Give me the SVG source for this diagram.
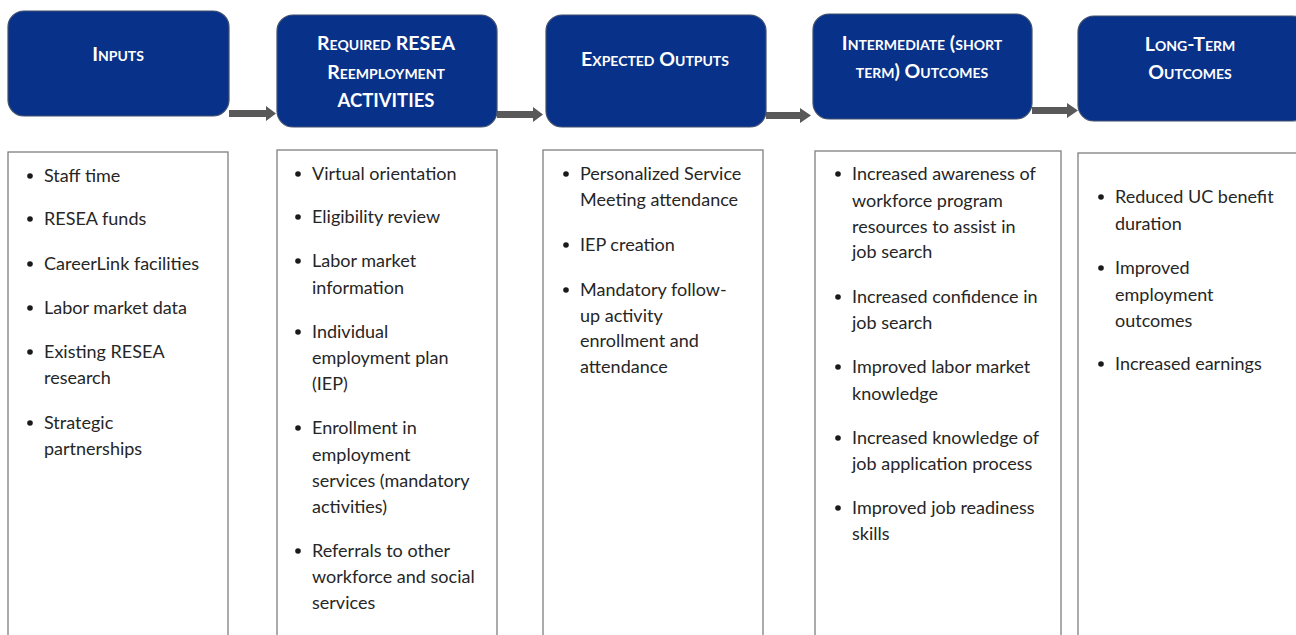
<svg xmlns="http://www.w3.org/2000/svg" width="1296" height="635" viewBox="0 0 1296 635">
  <defs>
    <style>
      .hdr { fill: #08318a; stroke: #41506e; stroke-width: 1.2; }
      .htxt { fill: #ffffff; font-family: Lato, "Liberation Sans", sans-serif; font-weight: bold; font-size: 19.5px; font-variant: small-caps; text-anchor: middle; }
      .hbig { font-size: 18.5px; font-variant: normal; }
      .body { fill: #ffffff; stroke: #7f7f7f; stroke-width: 1.3; }
      .btxt { fill: #262626; font-family: Lato, "Liberation Sans", sans-serif; font-size: 18px; }
      .dot { fill: #1a1a1a; }
      .arrow { fill: #595959; }
    </style>
    <symbol id="b" overflow="visible"><circle cx="0" cy="0" r="2.8" class="dot"/></symbol>
  </defs>
  <rect width="1296" height="635" fill="#ffffff"/>

  <!-- connectors between header boxes -->
  <g id="connectors">
    <polygon class="arrow" points="229,110 266,110 266,106 276,113.5 266,121 266,117 229,117"/>
    <polygon class="arrow" points="497,111 533,111 533,107 543,114.5 533,122 533,118 497,118"/>
    <polygon class="arrow" points="766,112 800,112 800,108 811,115.5 800,123 800,119 766,119"/>
    <polygon class="arrow" points="1032,107 1067,107 1067,103 1078,110.5 1067,118 1067,114 1032,114"/>
  </g>

  <!-- column 1 -->
  <g id="inputs">
    <rect class="hdr" x="8" y="11" width="221" height="105" rx="16"/>
    <text class="htxt" x="118" y="61">Inputs</text>
  </g>
  <g id="inputs-list">
    <rect class="body" x="8" y="152" width="220" height="490"/>
    <g class="btxt">
      <use href="#b" x="30" y="176"/><text x="44" y="182">Staff time</text>
      <use href="#b" x="30" y="219"/><text x="44" y="225">RESEA funds</text>
      <use href="#b" x="30" y="264"/><text x="44" y="270">CareerLink facilities</text>
      <use href="#b" x="30" y="308"/><text x="44" y="314">Labor market data</text>
      <use href="#b" x="30" y="352"/><text x="44" y="358">Existing RESEA</text>
      <text x="44" y="384">research</text>
      <use href="#b" x="30" y="423"/><text x="44" y="429">Strategic</text>
      <text x="44" y="455">partnerships</text>
    </g>
  </g>

  <!-- column 2 -->
  <g id="activities">
    <rect class="hdr" x="277" y="15" width="220" height="112" rx="16"/>
    <text class="htxt" x="386" y="50">Required RESEA</text>
    <text class="htxt" x="386" y="79">Reemployment</text>
    <text class="htxt hbig" x="386" y="107">ACTIVITIES</text>
  </g>
  <g id="activities-list">
    <rect class="body" x="277" y="150" width="220" height="492"/>
    <g class="btxt">
      <use href="#b" x="298" y="174"/><text x="312" y="180">Virtual orientation</text>
      <use href="#b" x="298" y="217"/><text x="312" y="223">Eligibility review</text>
      <use href="#b" x="298" y="261"/><text x="312" y="267">Labor market</text>
      <text x="312" y="294">information</text>
      <use href="#b" x="298" y="332"/><text x="312" y="338">Individual</text>
      <text x="312" y="364">employment plan</text>
      <text x="312" y="390">(IEP)</text>
      <use href="#b" x="298" y="428"/><text x="312" y="434">Enrollment in</text>
      <text x="312" y="461">employment</text>
      <text x="312" y="487">services (mandatory</text>
      <text x="312" y="513">activities)</text>
      <use href="#b" x="298" y="551"/><text x="312" y="557">Referrals to other</text>
      <text x="312" y="583">workforce and social</text>
      <text x="312" y="609">services</text>
    </g>
  </g>

  <!-- column 3 -->
  <g id="outputs">
    <rect class="hdr" x="546" y="15" width="220" height="112" rx="16"/>
    <text class="htxt" x="655" y="66">Expected Outputs</text>
  </g>
  <g id="outputs-list">
    <rect class="body" x="543" y="150" width="220" height="492"/>
    <g class="btxt">
      <use href="#b" x="566" y="174"/><text x="580" y="180">Personalized Service</text>
      <text x="580" y="206">Meeting attendance</text>
      <use href="#b" x="566" y="245"/><text x="580" y="251">IEP creation</text>
      <use href="#b" x="566" y="290"/><text x="580" y="296">Mandatory follow-</text>
      <text x="580" y="322">up activity</text>
      <text x="580" y="347">enrollment and</text>
      <text x="580" y="373">attendance</text>
    </g>
  </g>

  <!-- column 4 -->
  <g id="intermediate">
    <rect class="hdr" x="813" y="14" width="219" height="105" rx="16"/>
    <text class="htxt" x="922" y="50">Intermediate (short</text>
    <text class="htxt" x="922" y="78">term) Outcomes</text>
  </g>
  <g id="intermediate-list">
    <rect class="body" x="815" y="151" width="246" height="491"/>
    <g class="btxt">
      <use href="#b" x="838" y="174"/><text x="852" y="180">Increased awareness of</text>
      <text x="852" y="207">workforce program</text>
      <text x="852" y="233">resources to assist in</text>
      <text x="852" y="258">job search</text>
      <use href="#b" x="838" y="297"/><text x="852" y="303">Increased confidence in</text>
      <text x="852" y="329">job search</text>
      <use href="#b" x="838" y="367"/><text x="852" y="373">Improved labor market</text>
      <text x="852" y="400">knowledge</text>
      <use href="#b" x="838" y="438"/><text x="852" y="444">Increased knowledge of</text>
      <text x="852" y="470">job application process</text>
      <use href="#b" x="838" y="508"/><text x="852" y="514">Improved job readiness</text>
      <text x="852" y="540">skills</text>
    </g>
  </g>

  <!-- column 5 -->
  <g id="long-term">
    <rect class="hdr" x="1078" y="16" width="230" height="105" rx="16"/>
    <text class="htxt" x="1190" y="51">Long-Term</text>
    <text class="htxt" x="1190" y="79">Outcomes</text>
  </g>
  <g id="long-term-list">
    <rect class="body" x="1078" y="153" width="230" height="489"/>
    <g class="btxt">
      <use href="#b" x="1101" y="197"/><text x="1115" y="203">Reduced UC benefit</text>
      <text x="1115" y="230">duration</text>
      <use href="#b" x="1101" y="268"/><text x="1115" y="274">Improved</text>
      <text x="1115" y="301">employment</text>
      <text x="1115" y="327">outcomes</text>
      <use href="#b" x="1101" y="364"/><text x="1115" y="370">Increased earnings</text>
    </g>
  </g>
</svg>
